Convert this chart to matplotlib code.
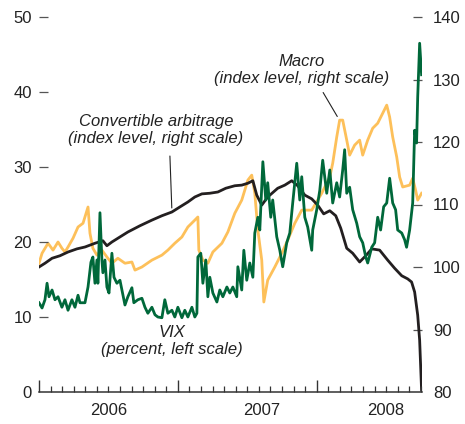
import matplotlib
matplotlib.use("Agg")
import matplotlib.pyplot as plt
from matplotlib.ticker import MultipleLocator

plt.rcParams["font.family"] = ["Liberation Sans", "DejaVu Sans"]
NARROW = ["Liberation Sans Narrow", "Liberation Sans", "DejaVu Sans"]

GREEN = "#00683a"
YELLOW = "#fdc05a"
BLACK = "#231f20"

# Convertible arbitrage index (right scale), time in decimal years
conv_t = [2006.000, 2006.043, 2006.094, 2006.151, 2006.209, 2006.273, 2006.331, 2006.403,
          2006.460, 2006.489, 2006.525, 2006.568, 2006.640, 2006.727, 2006.813, 2006.885,
          2006.957, 2007.014, 2007.072, 2007.122, 2007.173, 2007.230, 2007.288, 2007.345,
          2007.410, 2007.460, 2007.504, 2007.540, 2007.568, 2007.604, 2007.647, 2007.719,
          2007.770, 2007.820, 2007.863, 2007.914, 2007.964, 2008.007, 2008.050, 2008.094,
          2008.137, 2008.173, 2008.216, 2008.259, 2008.309, 2008.353, 2008.396, 2008.453,
          2008.511, 2008.561, 2008.612, 2008.655, 2008.683, 2008.705, 2008.727, 2008.741,
          2008.748, 2008.755]
conv_v = [100.0, 100.6, 101.4, 101.8, 102.4, 102.9, 103.2, 103.8,
          104.2, 103.4, 104.0, 104.6, 105.6, 106.6, 107.5, 108.2,
          108.8, 109.6, 110.4, 111.2, 111.7, 111.8, 112.0, 112.6,
          113.0, 113.1, 113.4, 113.8, 111.5, 109.9, 111.2, 112.6,
          113.1, 113.8, 113.0, 111.5, 110.9, 109.9, 108.5, 109.0,
          108.2, 106.2, 103.0, 102.2, 100.8, 101.8, 102.9, 102.7,
          101.1, 99.8, 98.6, 98.1, 97.6, 96.0, 92.3, 88.3,
          84.3, 80.3]

# Macro index (right scale)
macro_t = [2006.000, 2006.022, 2006.065, 2006.101, 2006.137, 2006.165, 2006.187, 2006.209,
           2006.245, 2006.281, 2006.317, 2006.353, 2006.367, 2006.388, 2006.417, 2006.453,
           2006.489, 2006.525, 2006.568, 2006.619, 2006.669, 2006.691, 2006.741, 2006.813,
           2006.885, 2006.928, 2006.978, 2007.029, 2007.072, 2007.122, 2007.144, 2007.151,
           2007.180, 2007.216, 2007.252, 2007.317, 2007.360, 2007.410, 2007.460, 2007.504,
           2007.532, 2007.554, 2007.576, 2007.604, 2007.619, 2007.647, 2007.698, 2007.748,
           2007.791, 2007.842, 2007.892, 2007.964, 2008.036, 2008.094, 2008.115, 2008.144,
           2008.165, 2008.187, 2008.216, 2008.237, 2008.273, 2008.309, 2008.331, 2008.367,
           2008.403, 2008.439, 2008.475, 2008.504, 2008.525, 2008.547, 2008.576, 2008.597,
           2008.619, 2008.669, 2008.691, 2008.712, 2008.727, 2008.755]
macro_v = [100.6, 102.2, 103.8, 102.7, 104.0, 103.0, 102.4, 103.2,
           104.6, 106.4, 107.0, 109.6, 105.4, 103.0, 101.9, 102.7,
           101.6, 100.6, 101.4, 100.6, 100.8, 99.5, 100.0, 101.1,
           101.9, 102.7, 103.8, 104.8, 106.4, 107.5, 108.0, 102.7,
           101.1, 100.6, 102.4, 103.8, 105.6, 108.6, 110.7, 113.9,
           114.7, 111.8, 105.9, 101.1, 94.4, 97.9, 100.0, 102.2,
           104.3, 107.0, 109.1, 109.1, 111.8, 114.4, 116.6, 120.8,
           123.5, 123.5, 120.3, 117.9, 119.5, 120.3, 117.9, 120.3,
           122.2, 123.0, 124.6, 125.9, 124.0, 120.8, 117.6, 114.4,
           112.8, 113.1, 114.2, 112.3, 110.7, 111.8]

# VIX (percent, left scale)
vix_t = [2006.000, 2006.022, 2006.043, 2006.058, 2006.072, 2006.094, 2006.115, 2006.137,
         2006.165, 2006.187, 2006.209, 2006.237, 2006.259, 2006.281, 2006.295, 2006.331,
         2006.353, 2006.374, 2006.388, 2006.403, 2006.417, 2006.424, 2006.439, 2006.453,
         2006.460, 2006.475, 2006.489, 2006.504, 2006.525, 2006.540, 2006.561, 2006.583,
         2006.597, 2006.619, 2006.640, 2006.669, 2006.683, 2006.712, 2006.741, 2006.763,
         2006.784, 2006.813, 2006.835, 2006.856, 2006.885, 2006.906, 2006.928, 2006.957,
         2006.978, 2007.000, 2007.029, 2007.050, 2007.072, 2007.101, 2007.122, 2007.137,
         2007.144, 2007.165, 2007.180, 2007.201, 2007.216, 2007.230, 2007.252, 2007.281,
         2007.302, 2007.324, 2007.353, 2007.374, 2007.396, 2007.424, 2007.432, 2007.460,
         2007.475, 2007.496, 2007.518, 2007.540, 2007.554, 2007.576, 2007.590, 2007.612,
         2007.633, 2007.647, 2007.669, 2007.683, 2007.712, 2007.734, 2007.755, 2007.784,
         2007.806, 2007.827, 2007.856, 2007.878, 2007.892, 2007.914, 2007.935, 2007.964,
         2007.971, 2008.000, 2008.022, 2008.043, 2008.072, 2008.094, 2008.115, 2008.144,
         2008.165, 2008.187, 2008.201, 2008.216, 2008.237, 2008.259, 2008.288, 2008.309,
         2008.331, 2008.353, 2008.367, 2008.396, 2008.417, 2008.439, 2008.460, 2008.482,
         2008.504, 2008.525, 2008.547, 2008.568, 2008.583, 2008.612, 2008.633, 2008.647,
         2008.669, 2008.691, 2008.705, 2008.719, 2008.727, 2008.741, 2008.748, 2008.755]
vix_v = [11.9, 11.2, 12.3, 14.5, 12.7, 13.6, 12.3, 12.7,
         11.3, 12.3, 10.9, 12.3, 11.3, 12.9, 11.9, 11.9,
         14.0, 17.3, 18.0, 14.5, 17.6, 14.5, 23.9, 17.6,
         15.9, 17.6, 14.0, 13.2, 18.5, 15.3, 14.5, 14.9,
         13.6, 11.6, 12.7, 13.9, 11.9, 12.3, 12.5, 11.3,
         10.5, 11.3, 10.3, 10.0, 9.9, 12.3, 10.5, 10.9,
         10.0, 11.3, 9.9, 10.9, 10.0, 11.3, 10.0, 10.5,
         18.0, 18.5, 14.5, 17.6, 12.7, 15.3, 13.2, 12.0,
         13.6, 12.7, 14.0, 13.2, 14.0, 12.7, 16.7, 13.6,
         18.9, 14.9, 17.2, 15.3, 21.2, 23.3, 21.6, 30.7,
         25.6, 27.9, 23.3, 25.6, 20.7, 18.9, 16.7, 19.9,
         21.2, 25.2, 30.5, 25.6, 28.7, 23.3, 22.0, 18.9,
         21.6, 24.3, 26.9, 30.9, 26.5, 29.6, 25.2, 27.9,
         26.0, 29.6, 32.3, 26.5, 27.3, 24.3, 22.5, 20.7,
         19.9, 18.0, 17.2, 19.3, 19.9, 23.3, 21.6, 24.7,
         25.2, 28.5, 25.2, 24.3, 21.6, 21.2, 20.3, 19.3,
         21.6, 25.2, 34.9, 33.2, 39.3, 46.5, 44.3, 42.3]

years = [2006, 2007, 2008]
year_label_pos = [2006.50, 2007.60, 2008.50]
left_ticks = [0, 10, 20, 30, 40, 50]
right_ticks = [80, 90, 100, 110, 120, 130, 140]

fig = plt.figure(figsize=(4.65, 4.24), dpi=100)
ax = fig.add_axes([39 / 465, 32 / 424, 383 / 465, 375 / 424])
ax2 = ax.twinx()

ax2.plot(macro_t, macro_v, color=YELLOW, lw=2.0, zorder=2)
ax2.plot(conv_t, conv_v, color=BLACK, lw=2.0, zorder=3)
ax.plot(vix_t, vix_v, color=GREEN, lw=2.0, zorder=4)
ax.set_zorder(ax2.get_zorder() + 1)
ax.patch.set_visible(False)

ax.set_xlim(2006.0, 2008.758)
ax.set_ylim(0, 50)
ax2.set_ylim(80, 140)

for a in (ax, ax2):
    for s in ("top", "left", "right"):
        a.spines[s].set_visible(False)
ax2.spines["bottom"].set_visible(False)
ax.spines["bottom"].set_linewidth(1.1)
ax.spines["bottom"].set_color("#333333")

ax.set_xticks(years)
ax.set_xticklabels([])
ax.xaxis.set_minor_locator(MultipleLocator(1 / 12))
ax.tick_params(axis="x", which="major", direction="in", length=9, width=1.0, color="#333333")
ax.tick_params(axis="x", which="minor", direction="in", length=4.5, width=0.9, color="#333333")
for yr, pos in zip(years, year_label_pos):
    ax.text(pos, -0.05, str(yr), transform=ax.get_xaxis_transform(),
            ha="center", va="center", fontsize=12, color="#222222")

ax.set_yticks(left_ticks)
ax.tick_params(axis="y", direction="in", length=6.5, width=0.9, color="#555555",
               labelsize=12, labelcolor="#222222", pad=5)
ax.yaxis.get_major_ticks()[0].tick1line.set_visible(False)

ax2.set_yticks(right_ticks)
ax2.tick_params(axis="y", direction="in", length=6.5, width=0.9, color="#555555",
                labelsize=12, labelcolor="#222222", pad=8)
ax2.yaxis.get_major_ticks()[0].tick2line.set_visible(False)

txt = dict(ha="center", va="center", fontsize=12, style="italic",
           color="#222222", family=NARROW, linespacing=1.1, transform=ax.transAxes)
ax.text((156 - 39) / 383, (392 - 130) / 375,
        "Convertible arbitrage\n(index level, right scale)", **txt)
ax.text((302 - 39) / 383, (392 - 70) / 375,
        "Macro\n(index level, right scale)", **txt)
ax.text((172 - 39) / 383, (392 - 341) / 375,
        "VIX\n(percent, left scale)", **txt)

ax2.annotate("", xy=(2006.957, 109.0), xytext=(2006.942, 118.2),
             arrowprops=dict(arrowstyle="-", color="#222222", lw=0.8))
ax2.annotate("", xy=(2008.158, 123.7), xytext=(2008.036, 128.3),
             arrowprops=dict(arrowstyle="-", color="#222222", lw=0.8))

fig.savefig("out.png", dpi=100)
